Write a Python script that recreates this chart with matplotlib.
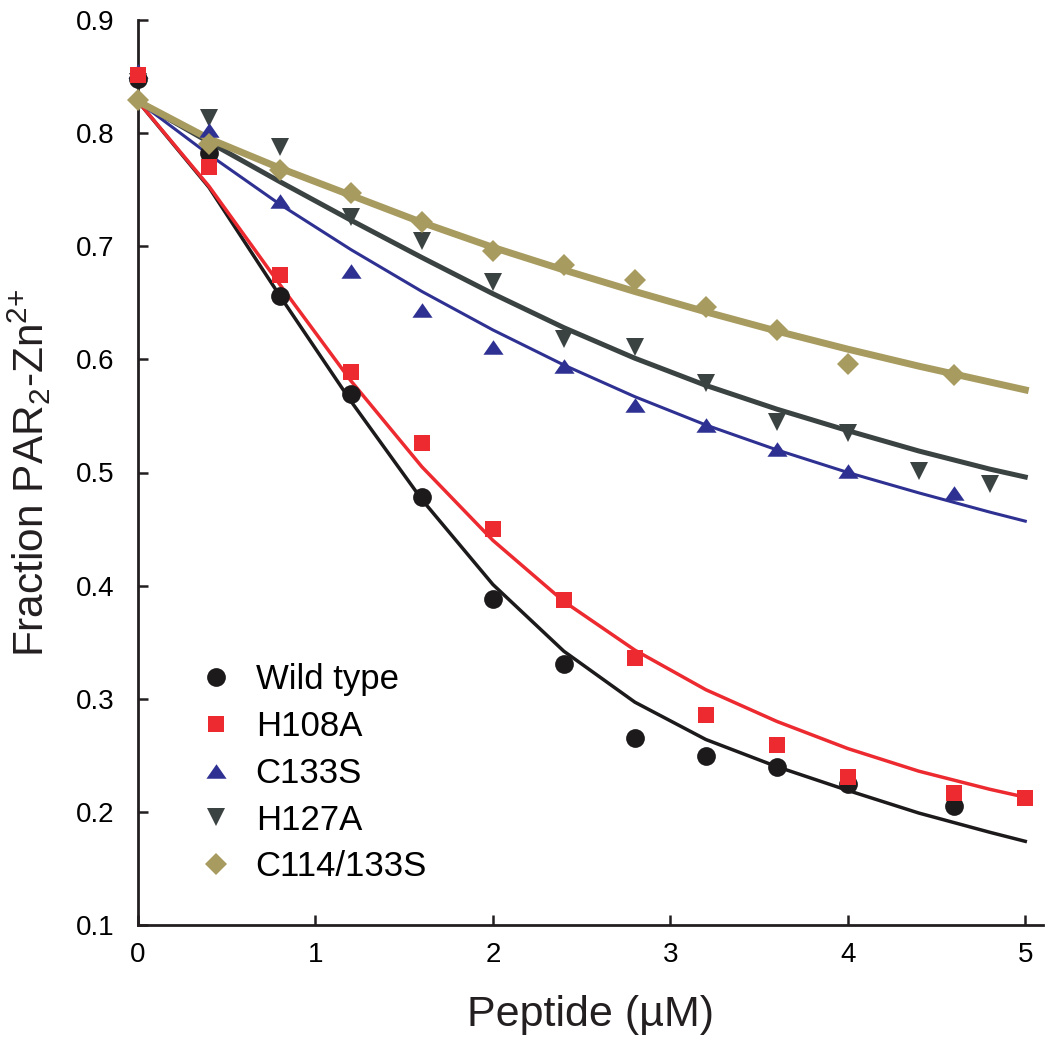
import numpy as np
import matplotlib.pyplot as plt
from matplotlib.lines import Line2D

plt.rcParams['font.family'] = ['Liberation Sans', 'DejaVu Sans']
plt.rcParams['mathtext.fontset'] = 'custom'
plt.rcParams['mathtext.rm'] = 'Liberation Sans'

# measured points
labels = ['Wild type', 'H108A', 'C133S', 'H127A', 'C114/133S']

wt_x = [0, 0.4, 0.8, 1.2, 1.6, 2.0, 2.4, 2.8, 3.2, 3.6, 4.0, 4.6]
wt_y = [0.848, 0.782, 0.656, 0.569, 0.478, 0.388, 0.331, 0.265, 0.249, 0.240, 0.225, 0.205]

h108_x = [0, 0.4, 0.8, 1.2, 1.6, 2.0, 2.4, 2.8, 3.2, 3.6, 4.0, 4.6, 5.0]
h108_y = [0.851, 0.770, 0.675, 0.589, 0.526, 0.450, 0.387, 0.336, 0.286, 0.259, 0.231, 0.217, 0.212]

c133_x = [0, 0.4, 0.8, 1.2, 1.6, 2.0, 2.4, 2.8, 3.2, 3.6, 4.0, 4.6]
c133_y = [0.855, 0.803, 0.740, 0.678, 0.644, 0.611, 0.594, 0.560, 0.542, 0.521, 0.501, 0.482]

h127_x = [0, 0.4, 0.8, 1.2, 1.6, 2.0, 2.4, 2.8, 3.2, 3.6, 4.0, 4.4, 4.8]
h127_y = [0.845, 0.813, 0.788, 0.726, 0.705, 0.668, 0.618, 0.611, 0.579, 0.545, 0.535, 0.501, 0.490]

c114_x = [0, 0.4, 0.8, 1.2, 1.6, 2.0, 2.4, 2.8, 3.2, 3.6, 4.0, 4.6]
c114_y = [0.829, 0.790, 0.767, 0.747, 0.721, 0.696, 0.683, 0.670, 0.646, 0.626, 0.596, 0.586]

# fitted curves
fit_x = [0, 0.4, 0.8, 1.2, 1.6, 2.0, 2.4, 2.8, 3.2, 3.6, 4.0, 4.4, 4.8, 5.0]
wt_fit = [0.828, 0.752, 0.656, 0.563, 0.476, 0.401, 0.342, 0.297, 0.264, 0.240, 0.219, 0.199, 0.182, 0.174]
h108_fit = [0.828, 0.753, 0.666, 0.581, 0.505, 0.440, 0.386, 0.343, 0.308, 0.280, 0.256, 0.236, 0.220, 0.213]
c133_fit = [0.828, 0.781, 0.737, 0.697, 0.660, 0.626, 0.595, 0.567, 0.542, 0.520, 0.500, 0.482, 0.465, 0.457]
h127_fit = [0.828, 0.792, 0.757, 0.723, 0.690, 0.658, 0.628, 0.601, 0.577, 0.556, 0.537, 0.519, 0.503, 0.496]
c114_fit = [0.828, 0.795, 0.769, 0.745, 0.721, 0.699, 0.679, 0.660, 0.642, 0.625, 0.609, 0.594, 0.580, 0.573]

colors = ['#1c1a1b', '#ec2a30', '#2e3192', '#3b4342', '#a89b60']

fig = plt.figure(figsize=(10.47, 10.5), dpi=100)
ax = fig.add_axes([0.1318, 0.119, 0.8644, 0.862])

# curves
ax.plot(fit_x, wt_fit, color=colors[0], lw=2.5, zorder=2)
ax.plot(fit_x, h108_fit, color=colors[1], lw=2.5, zorder=2)
ax.plot(fit_x, c133_fit, color=colors[2], lw=2.2, zorder=2)
ax.plot(fit_x, h127_fit, color=colors[3], lw=3.6, zorder=2)
ax.plot(fit_x, c114_fit, color=colors[4], lw=5, zorder=2)

# points
mk = dict(ls='none', clip_on=False, markeredgewidth=0)
tri_up = [(-1, -0.72), (1, -0.72), (0, 0.72)]
ax.plot(h127_x, h127_y, marker='v', ms=13.5, color=colors[3], zorder=3, **mk)
ax.plot(c133_x, c133_y, marker=tri_up, ms=14.5, color=colors[2], zorder=4, **mk)
ax.plot(wt_x, wt_y, marker='o', ms=13.5, color=colors[0], zorder=5, **mk)
ax.plot(h108_x, h108_y, marker='s', ms=12, color=colors[1], zorder=6, **mk)
ax.plot(c114_x, c114_y, marker='D', ms=11, color=colors[4], zorder=7, **mk)

handles = [
    Line2D([], [], marker='o', ms=13.5, color=colors[0], ls='none', mew=0),
    Line2D([], [], marker='s', ms=12, color=colors[1], ls='none', mew=0),
    Line2D([], [], marker=tri_up, ms=14.5, color=colors[2], ls='none', mew=0),
    Line2D([], [], marker='v', ms=13.5, color=colors[3], ls='none', mew=0),
    Line2D([], [], marker='D', ms=11, color=colors[4], ls='none', mew=0),
]
ax.legend(handles, labels, loc='upper left', bbox_to_anchor=(0.0475, 0.305),
          frameon=False, fontsize=25, handletextpad=0.55, labelspacing=0.4,
          handlelength=1.2, borderaxespad=0)

ax.set_xlim(0, 5.1)
ax.set_ylim(0.1, 0.9)
ax.set_xticks([0, 1, 2, 3, 4, 5])
ax.set_yticks([0.1, 0.2, 0.3, 0.4, 0.5, 0.6, 0.7, 0.8, 0.9])
ax.set_yticklabels(['0.1', '0.2', '0.3', '0.4', '0.5', '0.6', '0.7', '0.8', '0.9'])
for s in ['top', 'right']:
    ax.spines[s].set_visible(False)
for s in ['left', 'bottom']:
    ax.spines[s].set_linewidth(2)
    ax.spines[s].set_color('#231f20')
ax.tick_params(direction='in', length=7, width=1.8, labelsize=20, color='#231f20')
ax.tick_params(axis='y', pad=17)
ax.tick_params(axis='x', pad=12)

ax.set_xlabel('Peptide (µM)', fontsize=31, labelpad=20, color='#231f20')
ax.set_ylabel(r'Fraction PAR$_\mathregular{2}$-Zn$^\mathregular{2{+}}$', fontsize=30.5,
              labelpad=16, color='#231f20')

fig.savefig('out.png', dpi=100)
